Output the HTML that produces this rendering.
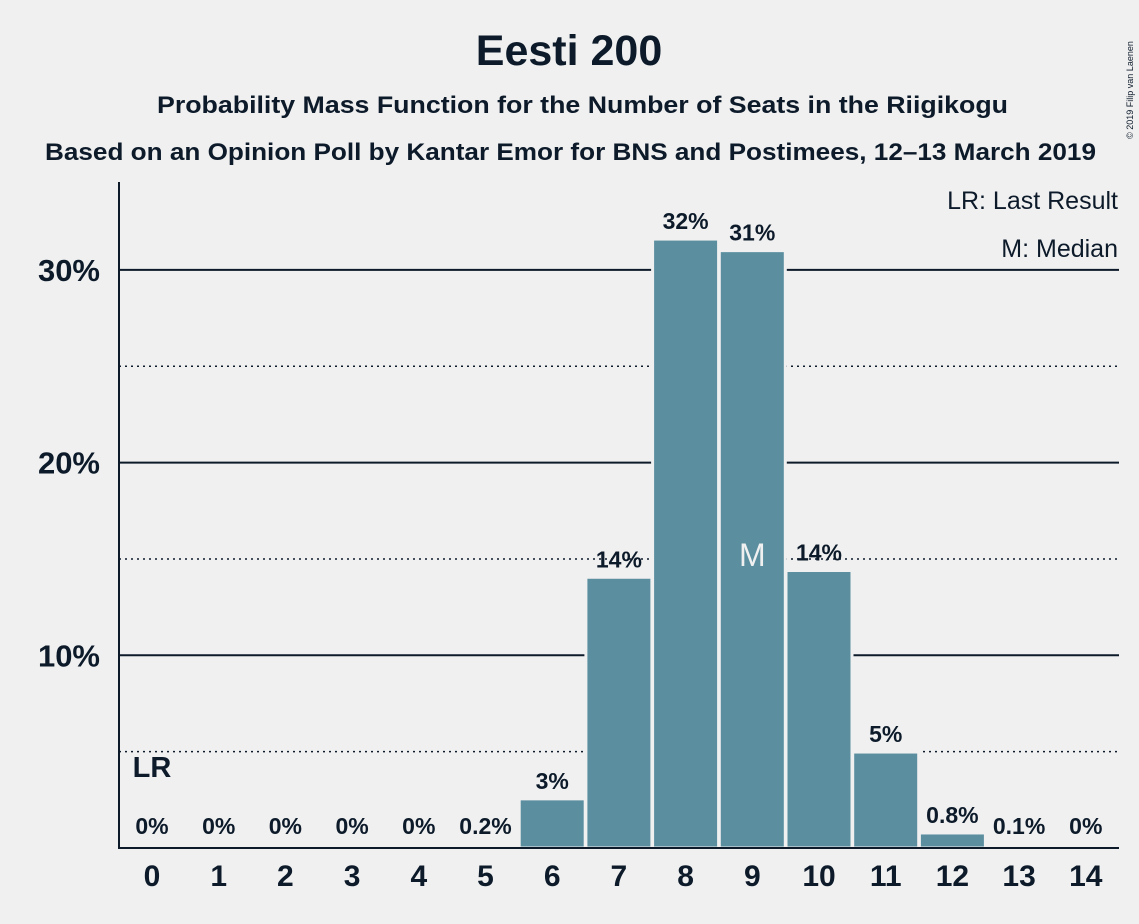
<!DOCTYPE html>
<html><head><meta charset="utf-8"><style>
body{margin:0;background:#f0f0f0;}
svg{display:block;font-family:"Liberation Sans",sans-serif;font-weight:bold;fill:#0c1a2a;}
</style></head><body>
<svg id="c" width="1139" height="924">
<rect width="1139" height="924" fill="#f0f0f0"/>
<text x="569" y="65" font-size="43" text-anchor="middle">Eesti 200</text>
<text x="157" y="113" font-size="24" textLength="851" lengthAdjust="spacingAndGlyphs">Probability Mass Function for the Number of Seats in the Riigikogu</text>
<text x="45" y="160" font-size="24" textLength="1051" lengthAdjust="spacingAndGlyphs">Based on an Opinion Poll by Kantar Emor for BNS and Postimees, 12–13 March 2019</text>
<text x="1133" y="90" font-size="9" font-weight="normal" transform="rotate(-90 1133 90)" text-anchor="middle">© 2019 Filip van Laenen</text>
<g id="grid"></g>
<g id="bars"></g>
<g id="labels"></g>
<line x1="119" y1="182" x2="119" y2="849" stroke="#0c1a2a" stroke-width="2"/>
<line x1="118" y1="848" x2="1119" y2="848" stroke="#0c1a2a" stroke-width="2"/>
<text x="1118" y="209" font-size="25" font-weight="normal" text-anchor="end">LR: Last Result</text>
<text x="1118" y="257" font-size="25" font-weight="normal" text-anchor="end">M: Median</text>
</svg>
<script>
const categories=[0,1,2,3,4,5,6,7,8,9,10,11,12,13,14];
const values=[0,0,0,0,0,0.15,2.55,14.05,31.6,31.0,14.4,4.98,0.78,0.05,0];
const valueLabels=["0%","0%","0%","0%","0%","0.2%","3%","14%","32%","31%","14%","5%","0.8%","0.1%","0%"];
const yTicks=[10,20,30];
const yDotted=[5,15,25];
const lastResult=0;
const median=9;
const NS="http://www.w3.org/2000/svg";
const y=v=>848-v*19.27;
const x=i=>152+i*66.7;
function mk(tag,attrs,parent,txt){const e=document.createElementNS(NS,tag);for(const k in attrs)e.setAttribute(k,attrs[k]);if(txt!==undefined)e.textContent=txt;document.getElementById(parent).appendChild(e);return e;}
yDotted.forEach(t=>{const l=mk('line',{x1:119,x2:1119,y1:y(t),y2:y(t),stroke:'#0c1a2a','stroke-width':1.5,'stroke-dasharray':'2,4'},'grid');

});
yTicks.forEach(t=>{const l=mk('line',{x1:119,x2:1119,y1:y(t),y2:y(t),stroke:'#0c1a2a','stroke-width':2},'grid');


const tx=mk('text',{x:100,y:y(t)+11,'font-size':31,'text-anchor':'end'},'labels',t+'%');

});
categories.forEach((c,i)=>{
 const v=values[i];
 if(v>0){const r=mk('rect',{x:x(i)-33,y:y(v),width:66,height:848-y(v),fill:'#5b8fa0',stroke:'#f0f0f0','stroke-width':3},'bars');
 
 }
 const ly=Math.min(y(v)-10,834);
 const t=mk('text',{x:x(i),y:ly,'font-size':23,'text-anchor':'middle'},'labels',valueLabels[i]);
 
 
 const xt=mk('text',{x:x(i),y:886,'font-size':30,'text-anchor':'middle'},'labels',String(c));
 
 
});
const lr=mk('text',{x:x(lastResult),y:777,'font-size':29,'text-anchor':'middle'},'labels','LR');


const m=mk('text',{x:x(median),y:566,'font-size':32,'font-weight':'normal','text-anchor':'middle',fill:'#f0f0f0'},'labels','M');


</script>
</body></html>
